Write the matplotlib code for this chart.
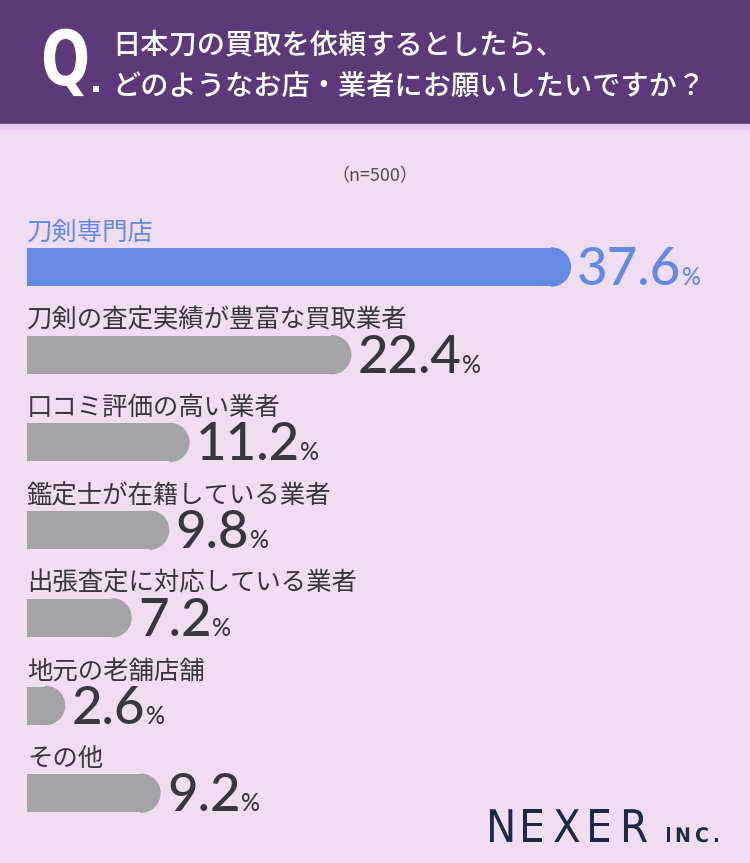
import matplotlib
matplotlib.use('Agg')
import matplotlib.pyplot as plt
from matplotlib.patches import Rectangle, Wedge, PathPatch
from matplotlib.textpath import TextPath
from matplotlib.font_manager import FontProperties
from matplotlib.transforms import Affine2D

# data
categories = ['刀剣専門店', '刀剣の査定実績が豊富な買取業者', '口コミ評価の高い業者',
              '鑑定士が在籍している業者', '出張査定に対応している業者', '地元の老舗店舗', 'その他']
values = [37.6, 22.4, 11.2, 9.8, 7.2, 2.6, 9.2]
title_lines = ['日本刀の買取を依頼するとしたら、', 'どのようなお店・業者にお願いしたいですか？']
note = '（n=500）'

jp = ['Noto Sans CJK JP', 'DejaVu Sans']
num_font = ['Lato', 'DejaVu Sans']

bg = '#f1ddf2'
purple = '#5c3a79'
blue = '#628ae2'
grey = '#a3a3a8'
dark = '#3a3540'
navy = '#1c2a45'

fig = plt.figure(figsize=(7.5, 8.63), dpi=100)
fig.set_facecolor(bg)
ax = fig.add_axes([0, 0, 1, 1])
ax.set_xlim(0, 750)
ax.set_ylim(863, 0)
ax.axis('off')


def glyph(s, x, base, size, sx, color, weight='regular', family='DejaVu Sans'):
    # draw text as a path so it can be squeezed horizontally
    tp = TextPath((0, 0), s, size=size, prop=FontProperties(family=family, weight=weight))
    path = Affine2D().scale(sx, -1).translate(x, base).transform_path(tp)
    ax.add_patch(PathPatch(path, color=color, lw=0, zorder=3))


# header band
ax.add_patch(Rectangle((0, 0), 750, 124, color=purple, zorder=1))
ax.add_patch(Rectangle((0, 124), 750, 5, color='#e6c9ef', zorder=1))
glyph('Q', 41, 85, 76, 0.76, 'white', weight='bold')
glyph('.', 90, 92, 34, 1.0, 'white', weight='bold')
ax.text(112, 53, title_lines[0], color='white', fontsize=20.3, fontweight='medium',
        family=jp, va='baseline', ha='left', zorder=3)
ax.text(112, 95, title_lines[1], color='white', fontsize=20.3, fontweight='medium',
        family=jp, va='baseline', ha='left', zorder=3)

ax.text(375, 176, note, color='#555055', fontsize=13, family=jp, ha='center', va='center')

left = 27
scale = 14.45  # px per percent
bar_h = 38
r = bar_h / 2
label_y0 = 233
bar_y0 = 267
step = 87.7

fig.canvas.draw()
renderer = fig.canvas.get_renderer()

for i, (cat, v) in enumerate(zip(categories, values)):
    col_bar = blue if i == 0 else grey
    col_txt = blue if i == 0 else dark
    ly = label_y0 + i * step
    by = bar_y0 + i * step
    ax.text(left, ly, cat, color=col_txt, fontsize=18.3, family=jp, ha='left', va='center')
    w = v * scale
    ax.barh(by, w - r, left=left, height=bar_h, color=col_bar, zorder=2)
    ax.add_patch(Wedge((left + w - r, by), r, -90, 90, color=col_bar, zorder=2))
    t = ax.text(left + w + 7, by + 18, f'{v:.1f}', color=col_txt, fontsize=38,
                family=num_font, fontweight='medium', ha='left', va='baseline')
    bb = t.get_window_extent(renderer)
    x_end = ax.transData.inverted().transform((bb.x1, bb.y0))[0]
    ax.text(x_end + 0.5, by + 18, '%', color=col_txt, fontsize=17, family=num_font,
            fontweight='medium', ha='left', va='baseline')

# logo
for k, ch in enumerate('NEXER'):
    glyph(ch, 486 + k * 33.5, 842, 45, 0.9, navy, family='DejaVu Sans')
for ch, x in zip('INC.', [665, 675, 695, 713]):
    glyph(ch, x, 842, 20, 0.95, navy, weight='bold')

fig.savefig('out.png', dpi=100, facecolor=bg)
